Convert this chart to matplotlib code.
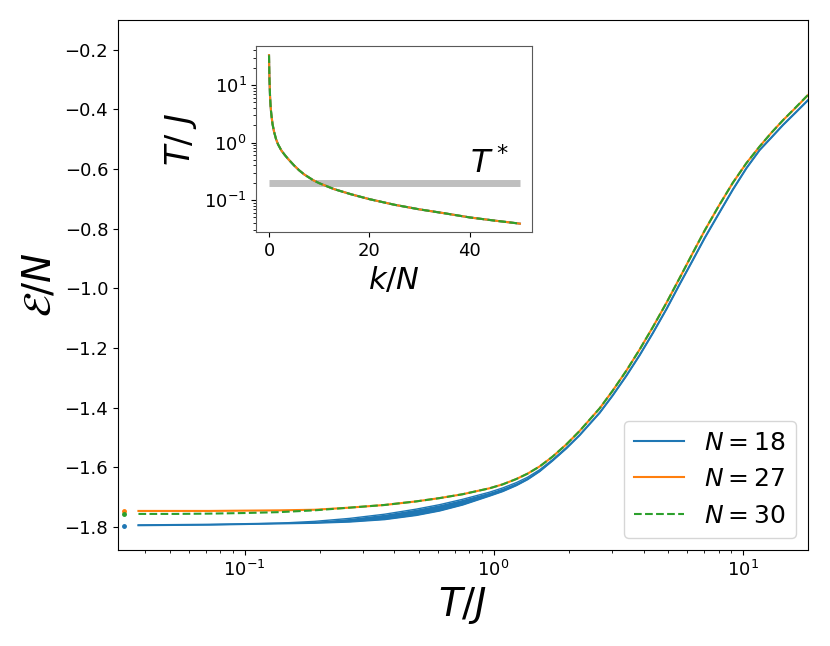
import numpy as np
import matplotlib
matplotlib.use("Agg")
import matplotlib.pyplot as plt


# main panel: energy per site vs temperature
T = [0.0375, 0.0524, 0.0723, 0.1, 0.138, 0.191, 0.264, 0.365, 0.489, 0.607,
     0.751, 0.964, 1.087, 1.234, 1.369, 1.53, 1.725, 1.959, 2.215, 2.666,
     3.006, 3.411, 3.857, 4.364, 4.953, 5.585, 6.27, 7.038, 8.01, 9.143,
     10.35, 11.7, 13.04, 14.52, 16.33, 18.29]

E18 = [-1.794, -1.793, -1.792, -1.790, -1.788, -1.786, -1.782, -1.774,
       -1.760, -1.745, -1.725, -1.695, -1.680, -1.660, -1.640, -1.613,
       -1.577, -1.536, -1.492, -1.417, -1.359, -1.293, -1.224, -1.149,
       -1.068, -0.986, -0.909, -0.831, -0.750, -0.668, -0.597, -0.536,
       -0.494, -0.452, -0.410, -0.369]
# upper edge of the N=18 spread
E18_hi = [-1.794, -1.793, -1.792, -1.790, -1.787, -1.781, -1.771, -1.757,
          -1.740, -1.725, -1.707, -1.683, -1.669, -1.651, -1.633, -1.608,
          -1.574, -1.534, -1.492, -1.417, -1.359, -1.293, -1.224, -1.149,
          -1.068, -0.986, -0.909, -0.831, -0.750, -0.668, -0.597, -0.536,
          -0.494, -0.452, -0.410, -0.369]
E27 = [-1.746, -1.746, -1.746, -1.745, -1.744, -1.742, -1.735, -1.726,
       -1.714, -1.703, -1.690, -1.670, -1.657, -1.639, -1.621, -1.597,
       -1.564, -1.523, -1.478, -1.402, -1.343, -1.276, -1.205, -1.129,
       -1.047, -0.965, -0.885, -0.806, -0.724, -0.645, -0.580, -0.524,
       -0.478, -0.436, -0.394, -0.352]
E30 = [-1.756, -1.756, -1.755, -1.753, -1.750, -1.744, -1.735, -1.726,
       -1.714, -1.703, -1.690, -1.670, -1.657, -1.639, -1.621, -1.597,
       -1.564, -1.523, -1.478, -1.402, -1.343, -1.276, -1.205, -1.129,
       -1.047, -0.965, -0.885, -0.806, -0.724, -0.645, -0.580, -0.524,
       -0.478, -0.436, -0.393, -0.351]

# ground state points at the left edge
T0 = 0.0327
E0_18 = -1.795
E0_27 = -1.746
E0_30 = -1.756

# inset: temperature schedule
k = [0, 0.05, 0.1, 0.15, 0.2, 0.3, 0.4, 0.5, 0.7, 1.0, 1.4, 1.8, 2.5, 3.2,
     3.8, 5, 6, 7, 8.8, 10, 13, 16.4, 20, 25, 30, 35, 40, 45, 50]
Tk = [33, 18, 12, 9, 6.5, 4.5, 3.5, 2.9, 2.1, 1.55, 1.15, 0.93, 0.72, 0.6,
      0.52, 0.4, 0.33, 0.28, 0.222, 0.197, 0.155, 0.126, 0.104, 0.083,
      0.069, 0.059, 0.05, 0.044, 0.039]
T_star = 0.2

fig = plt.figure(figsize=(8.3, 6.46), dpi=100)
ax = fig.add_axes([0.142, 0.1486, 0.8315, 0.8204])

ax.fill_between(T, E18, E18_hi, color="C0", lw=0)
ax.plot(T, E18, color="C0", label=r"$N=18$")
ax.plot(T, E18_hi, color="C0", lw=1)
ax.plot(T, E27, color="C1", label=r"$N=27$")
ax.plot(T, E30, color="C2", ls="--", label=r"$N=30$")
ax.plot([T0], [E0_18], "o", color="C0", ms=2.5)
ax.plot([T0], [E0_27], "o", color="C1", ms=2.5)
ax.plot([T0], [E0_30], "o", color="C2", ms=2.5)

ax.set_xscale("log")
ax.set_xlim(0.031, 18.3)
ax.set_ylim(-1.877, -0.1)
ax.set_yticks(np.arange(-1.8, -0.1, 0.2))
ax.tick_params(labelsize=13)
ax.set_xlabel(r"$T/J$", fontsize=28)
ax.set_ylabel(r"$\mathcal{E}/N$", fontsize=28)
ax.legend(loc="lower right", fontsize=18)

ins = fig.add_axes([0.309, 0.641, 0.3325, 0.288])
ins.hlines(T_star, 0, 50, color="0.75", lw=5)
ins.plot(k, Tk, color="C0")
ins.plot(k, Tk, color="C1")
ins.plot(k, Tk, color="C2", ls="--")
ins.text(40, 0.225, r"$T^*$", fontsize=23, va="bottom")
ins.set_yscale("log")
ins.set_ylim(0.028, 48)
ins.set_xticks([0, 20, 40])
ins.tick_params(labelsize=13)
for s in ins.spines.values():
    s.set_color("0.35")
ins.set_xlabel(r"$k/N$", fontsize=22)
ins.set_ylabel(r"$T/\ J$", fontsize=24)

fig.savefig("out.png", dpi=100)
